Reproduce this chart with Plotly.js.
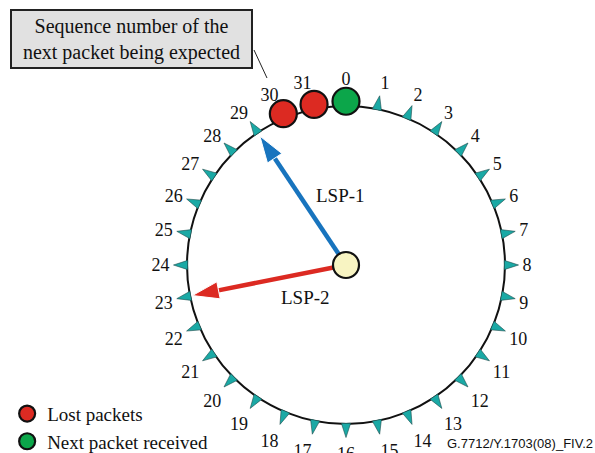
<!DOCTYPE html>
<html>
<head>
<meta charset="utf-8">
<script src="https://cdn.plot.ly/plotly-3.0.1.min.js"></script>
<style>html,body{margin:0;padding:0;background:#fff;}#chart{width:595px;height:453px;}</style>
</head>
<body>
<div id="chart"></div>
<script>
// ---- data ----
const categories = Array.from({length: 32}, (_, i) => String(i));
const lostPackets = ["30", "31"];
const nextPacket = ["0"];
const lsp1Target = "29";
const lsp2Target = "23";
const tickCategories = categories.filter(c => !lostPackets.includes(c) && !nextPacket.includes(c));
const tickAngles = tickCategories.map(c => categories.indexOf(c) * 360 / categories.length);

const serif = "Liberation Serif, Times New Roman, serif";
const teal = "#1AA9A5", red = "#DC2A22", green = "#0CA64A", blue = "#1874BE", cream = "#F8F4C2";

const traces = [
  { // LSP-1 arrow
    type: "scatterpolar", subplot: "polar", mode: "lines+markers", r: [0, 0.975], theta: [lsp1Target, lsp1Target],
    line: {color: blue, width: 4.5},
    marker: {symbol: "arrow", size: [0, 28], angleref: "previous", color: blue, opacity: 1},
    cliponaxis: false, showlegend: false, hoverinfo: "skip"
  },
  { // LSP-2 arrow
    type: "scatterpolar", subplot: "polar", mode: "lines+markers", r: [0, 0.985], theta: [lsp2Target, lsp2Target],
    line: {color: red, width: 4.5},
    marker: {symbol: "arrow", size: [0, 28], angleref: "previous", color: red, opacity: 1},
    cliponaxis: false, showlegend: false, hoverinfo: "skip"
  },
  { // centre node
    type: "scatterpolar", subplot: "polar", mode: "markers", r: [0], theta: ["0"],
    marker: {size: 26, color: cream, line: {color: "#111", width: 2.2}},
    showlegend: false, hoverinfo: "skip", cliponaxis: false
  },
  { // tick triangles (outer layer)
    type: "scatterpolar", subplot: "polar2", mode: "markers", r: tickCategories.map(() => 1.085), theta: tickCategories,
    marker: {symbol: "arrow", size: 15, angle: tickAngles, color: teal, line: {color: "#1d4a4a", width: 0.6}},
    cliponaxis: false, showlegend: false, hoverinfo: "skip"
  },
  { // lost packets
    type: "scatterpolar", subplot: "polar2", mode: "markers", name: "Lost packets",
    r: lostPackets.map(() => 1.03), theta: lostPackets,
    marker: {size: 27, color: red, line: {color: "#111", width: 2.2}},
    cliponaxis: false, hoverinfo: "skip"
  },
  { // next packet
    type: "scatterpolar", subplot: "polar2", mode: "markers", name: "Next packet received",
    r: nextPacket.map(() => 1.03), theta: nextPacket,
    marker: {size: 27, color: green, line: {color: "#111", width: 2.2}},
    cliponaxis: false, hoverinfo: "skip"
  }
];

const cx = 346, cy = 188, R = 159, R2 = R * 1.1;
const angCommon = {type: "category", categoryorder: "array", categoryarray: categories, rotation: 90, direction: "clockwise"};

const layout = {
  width: 595, height: 453,
  margin: {l: 0, r: 0, t: 0, b: 0, autoexpand: false},
  paper_bgcolor: "#fff",
  font: {family: serif, size: 18, color: "#111"},
  showlegend: true,
  legend: {x: 0.012, y: -0.017, xanchor: "left", yanchor: "bottom", font: {family: serif, size: 19, color: "#111"},
           bgcolor: "rgba(0,0,0,0)", itemwidth: 30, tracegroupgap: 0},
  polar: {
    domain: {x: [(cx - R)/595, (cx + R)/595], y: [(cy - R)/453, (cy + R)/453]},
    bgcolor: "#fff",
    radialaxis: {visible: false, range: [0, 1]},
    angularaxis: Object.assign({}, angCommon, {
      showline: true, linecolor: "#111", linewidth: 2,
      showgrid: false, ticks: "outside", ticklen: 13, tickcolor: "rgba(0,0,0,0)",
      tickfont: {family: serif, size: 18, color: "#111"}
    })
  },
  polar2: {
    domain: {x: [(cx - R2)/595, (cx + R2)/595], y: [(cy - R2)/453, (cy + R2)/453]},
    bgcolor: "rgba(0,0,0,0)",
    radialaxis: {visible: false, range: [0, 1.1]},
    angularaxis: Object.assign({}, angCommon, {
      showline: false, showgrid: false, ticks: "", showticklabels: false
    })
  },
  annotations: [
    {xref: "paper", yref: "paper", x: 131.5/595, y: 1 - 39/453, xanchor: "center", yanchor: "middle",
     text: "Sequence number of the<br>next packet being expected", showarrow: false,
     font: {family: serif, size: 20, color: "#111"}, bgcolor: "#E1E1E1", bordercolor: "#222",
     borderwidth: 2, borderpad: 0, width: 239, height: 56},
    {xref: "paper", yref: "paper", x: 340/595, y: 1 - 195/453, text: "LSP-1", showarrow: false,
     font: {family: serif, size: 19, color: "#111"}},
    {xref: "paper", yref: "paper", x: 306/595, y: 1 - 297/453, text: "LSP-2", showarrow: false,
     font: {family: serif, size: 19, color: "#111"}},
    {xref: "paper", yref: "paper", x: 1, y: 1 - 443/453, xanchor: "right", yanchor: "middle",
     text: "G.7712/Y.1703(08)_FIV.2", showarrow: false,
     font: {family: "Liberation Sans, Arial, sans-serif", size: 13, color: "#111"}}
  ],
  shapes: [
    {type: "line", xref: "paper", yref: "paper", x0: 254/595, y0: 1 - 50/453, x1: 267/595, y1: 1 - 78/453,
     line: {color: "#222", width: 1}}
  ]
};

Plotly.newPlot("chart", traces, layout, {displayModeBar: false, staticPlot: true});
</script>
</body>
</html>
